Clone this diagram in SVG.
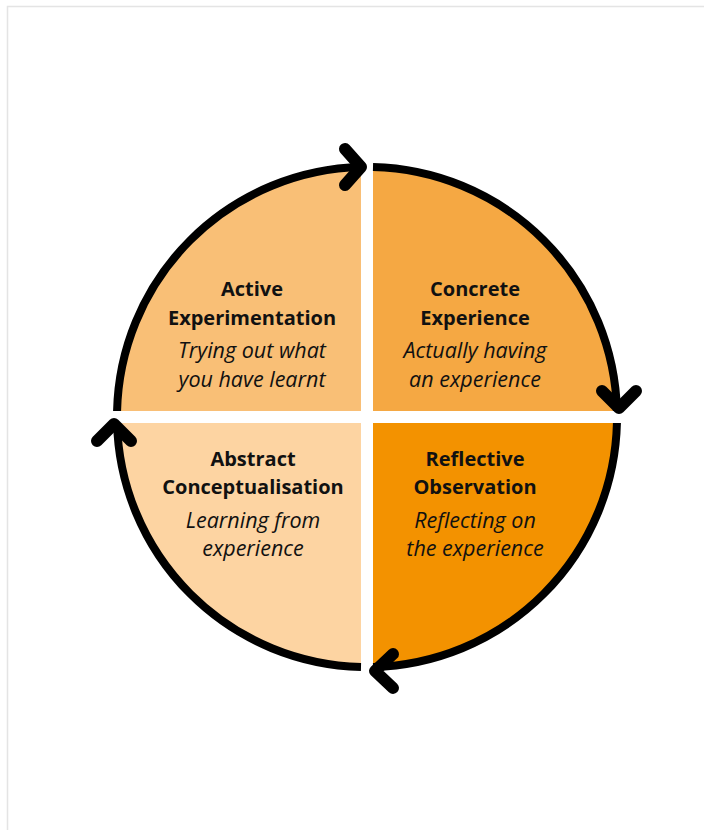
<svg xmlns="http://www.w3.org/2000/svg" width="704" height="830" viewBox="0 0 704 830">
<style>
.arc{fill:none;stroke:#000;stroke-width:8}
.arrow{fill:none;stroke:#000;stroke-width:12;stroke-linecap:round;stroke-linejoin:round}
.t{font-family:"Open Sans","Noto Sans",sans-serif;font-size:20px;font-weight:bold;fill:#111;text-anchor:middle}
.s{font-family:"Open Sans","Noto Sans",sans-serif;font-size:21.5px;font-style:italic;fill:#111;text-anchor:middle}
</style>
<rect width="704" height="830" fill="#fff"/>
<rect x="7.5" y="6.5" width="800" height="900" fill="none" stroke="#e4e4e4" stroke-width="1.5"/>
<g id="concrete-experience">
<path d="M373,411 L373,167.07 A250,250 0 0 1 616.93,411 Z" fill="#f5a843"/>
<path class="arc" d="M373,167.07 A250,250 0 0 1 616.93,411"/>
<text class="t" x="475" y="296">Concrete</text>
<text class="t" x="475" y="325">Experience</text>
<text class="s" x="475" y="358">Actually having</text>
<text class="s" x="475" y="387">an experience</text>
</g>
<g id="reflective-observation">
<path d="M373,423 L616.93,423 A250,250 0 0 1 373,666.93 Z" fill="#f39200"/>
<path class="arc" d="M616.93,423 A250,250 0 0 1 373,666.93"/>
<text class="t" x="475" y="466">Reflective</text>
<text class="t" x="475" y="494">Observation</text>
<text class="s" x="475" y="528">Reflecting on</text>
<text class="s" x="475" y="556">the experience</text>
</g>
<g id="abstract-conceptualisation">
<path d="M361,423 L361,666.93 A250,250 0 0 1 117.07,423 Z" fill="#fdd4a2"/>
<path class="arc" d="M361,666.93 A250,250 0 0 1 117.07,423"/>
<text class="t" x="253" y="466">Abstract</text>
<text class="t" x="253" y="494">Conceptualisation</text>
<text class="s" x="253" y="528">Learning from</text>
<text class="s" x="253" y="556">experience</text>
</g>
<g id="active-experimentation">
<path d="M361,411 L117.07,411 A250,250 0 0 1 361,167.07 Z" fill="#f9bf76"/>
<path class="arc" d="M117.07,411 A250,250 0 0 1 361,167.07"/>
<text class="t" x="252" y="296">Active</text>
<text class="t" x="252" y="325">Experimentation</text>
<text class="s" x="252" y="358">Trying out what</text>
<text class="s" x="252" y="387">you have learnt</text>
</g>
<g id="connectors">
<polyline class="arrow" points="345,149 361,167 345,185"/>
<polyline class="arrow" points="602,391 619,408 636,391"/>
<polyline class="arrow" points="393,654 375,671 393,688"/>
<polyline class="arrow" points="97,441 114,424 131,441"/>
</g>
</svg>
